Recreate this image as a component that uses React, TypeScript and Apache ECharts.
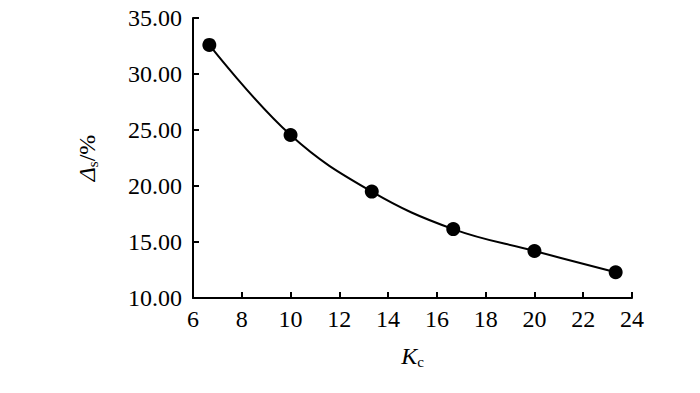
import React, { useEffect, useRef } from "react";
import * as echarts from "echarts";

const xValues = [6.67, 10, 13.33, 16.67, 20, 23.33];
const yValues = [32.6, 24.55, 19.5, 16.15, 14.2, 12.3];

const FONT = "Liberation Serif";

export default function App() {
  const ref = useRef<HTMLDivElement>(null);
  useEffect(() => {
    if (!ref.current) return;
    const chart = echarts.init(ref.current, undefined, { renderer: "svg" });
    chart.setOption({
      animation: false,
      backgroundColor: "#fff",
      grid: { left: 193, right: 68, top: 18, bottom: 95, containLabel: false },
      xAxis: {
        type: "value",
        min: 6,
        max: 24,
        interval: 2,
        name: "{k|K}{s|c}",
        nameLocation: "middle",
        nameGap: 44,
        nameTextStyle: {
          rich: {
            k: { fontFamily: FONT, fontStyle: "italic", fontSize: 24, color: "#000" },
            s: { fontFamily: FONT, fontSize: 15, color: "#000", padding: [12, 0, 0, 0] },
          },
        },
        axisLine: { show: true, onZero: false, lineStyle: { color: "#000", width: 2 } },
        axisTick: { show: true, inside: true, length: 6, lineStyle: { color: "#000", width: 2 } },
        axisLabel: { fontFamily: FONT, fontSize: 24, color: "#000", margin: 9 },
        splitLine: { show: false },
      },
      yAxis: {
        type: "value",
        min: 10,
        max: 35,
        interval: 5,
        name: "{d|Δ}{s|s}{p|/%}",
        nameLocation: "middle",
        nameRotate: 90,
        nameGap: 93,
        nameTextStyle: {
          rich: {
            d: { fontFamily: FONT, fontStyle: "italic", fontSize: 24, color: "#000" },
            s: { fontFamily: FONT, fontSize: 15, color: "#000", padding: [12, 0, 0, 0] },
            p: { fontFamily: FONT, fontSize: 24, color: "#000" },
          },
        },
        axisLine: { show: true, onZero: false, lineStyle: { color: "#000", width: 2 } },
        axisTick: { show: true, inside: true, length: 6, lineStyle: { color: "#000", width: 2 } },
        axisLabel: {
          fontFamily: FONT,
          fontSize: 24,
          color: "#000",
          margin: 11,
          formatter: (v: number) => v.toFixed(2),
        },
        splitLine: { show: false },
      },
      series: [
        {
          type: "line",
          data: xValues.map((x, i) => [x, yValues[i]]),
          smooth: 0.4,
          symbol: "circle",
          symbolSize: 14,
          itemStyle: { color: "#000" },
          lineStyle: { color: "#000", width: 2 },
        },
      ],
    });
    return () => chart.dispose();
  }, []);
  return <div ref={ref} style={{ width: 700, height: 393, position: "absolute", left: 0, top: 0 }} />;
}
